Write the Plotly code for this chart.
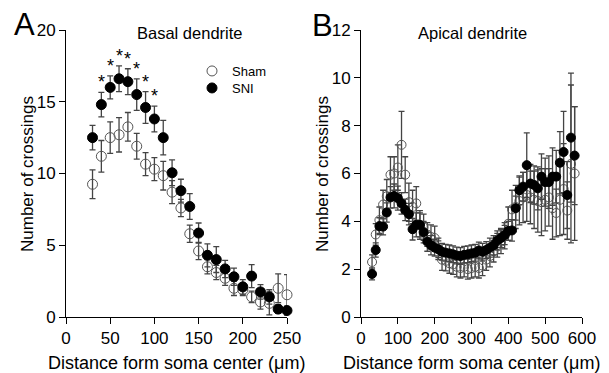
import plotly.graph_objects as go

# ---------------- Panel A: Basal dendrite ----------------
basal_dist = [30, 40, 50, 60, 70, 80, 90, 100, 110, 120, 130, 140, 150, 160,
              170, 180, 190, 200, 210, 220, 230, 240, 250]
basal_sham = [9.25, 11.2, 12.5, 12.7, 13.25, 11.9, 10.65, 10.3, 9.85, 8.7, 7.6, 5.8,
              4.6, 3.5, 3.1, 2.7, 2.0, 1.9, 1.4, 1.05, 0.95, 2.0, 1.55]
basal_sham_err = [1.0, 1.1, 1.1, 1.2, 1.0, 0.9, 0.8, 0.8, 1.0, 0.8, 0.6, 0.6,
                  0.6, 0.5, 0.5, 0.5, 0.5, 0.4, 0.4, 0.5, 0.8, 1.0, 1.4]
basal_sni = [12.5, 14.8, 16.0, 16.6, 16.4, 15.5, 14.6, 13.8, 12.5, 10.05, 8.8, 7.7,
             5.85, 4.3, 4.0, 3.35, 2.8, 2.1, 2.85, 1.75, 1.4, 0.55, 0.45]
basal_sni_err = [0.85, 0.85, 0.8, 0.9, 0.9, 1.1, 1.1, 0.9, 1.2, 0.9, 0.8, 0.9,
                 0.7, 0.8, 0.9, 0.6, 0.6, 0.5, 0.8, 0.5, 0.5, 0.3, 0.3]
basal_sig = [40, 50, 60, 70, 80, 90, 100]

# ---------------- Panel B: Apical dendrite ----------------
apical_dist = [30, 40, 50, 60, 70, 80, 90, 100, 110, 120, 130, 140, 150, 160, 170,
               180, 190, 200, 210, 220, 230, 240, 250, 260, 270, 280, 290, 300, 310,
               320, 330, 340, 350, 360, 370, 380, 390, 400, 410, 420, 430, 440, 450,
               460, 470, 480, 490, 500, 510, 520, 530, 540, 550, 560, 570, 580]
apical_sham = [2.3, 3.45, 4.05, 4.7, 5.05, 5.95, 6.0, 6.25, 7.2, 5.95, 4.8, 4.6, 4.75,
               3.85, 3.75, 3.45, 3.35, 3.3, 2.85, 2.4, 2.35, 2.25, 2.2, 2.1, 2.05, 2.1,
               2.0, 2.05, 2.1, 2.05, 2.15, 2.4, 2.55, 2.75, 3.0, 3.15, 3.4, 3.9, 4.5,
               4.6, 4.85, 5.0, 5.1, 5.0, 4.9, 4.85, 4.8, 4.9, 5.0, 4.55, 4.35, 4.9,
               5.35, 4.45, 6.4, 6.0]
apical_sham_err = [0.3, 0.45, 0.55, 0.6, 0.7, 0.75, 0.7, 0.95, 1.4, 0.75, 0.8, 0.7,
                   0.7, 0.6, 0.55, 0.5, 0.5, 0.5, 0.45, 0.45, 0.42, 0.42, 0.42, 0.42,
                   0.42, 0.42, 0.42, 0.42, 0.42, 0.42, 0.42, 0.45, 0.45, 0.45, 0.5,
                   0.5, 0.55, 0.7, 0.8, 0.9, 1.0, 1.05, 1.1, 1.1, 1.2, 1.3, 1.4, 1.3,
                   1.2, 1.3, 1.0, 1.5, 1.9, 1.2, 3.3, 2.8]
apical_sni = [1.8, 2.8, 3.8, 3.78, 4.37, 5.0, 5.06, 4.97, 4.75, 4.48, 4.3, 3.67, 3.85,
              3.85, 3.55, 3.15, 3.0, 2.9, 2.83, 2.73, 2.69, 2.66, 2.62, 2.57, 2.55,
              2.6, 2.62, 2.66, 2.69, 2.78, 2.73, 2.8, 2.9, 3.0, 3.2, 3.3, 3.43, 3.6,
              3.62, 4.55, 5.3, 5.45, 6.35, 5.58, 5.52, 5.38, 5.87, 5.64, 5.64, 5.87,
              5.87, 6.45, 6.9, 5.1, 7.5, 6.75]
apical_sni_err = [0.25, 0.3, 0.35, 0.35, 0.4, 0.45, 0.5, 0.5, 0.45, 0.45, 0.45, 0.45,
                  0.5, 0.5, 0.45, 0.4, 0.4, 0.35, 0.35, 0.35, 0.35, 0.35, 0.35, 0.35,
                  0.35, 0.35, 0.35, 0.35, 0.35, 0.35, 0.35, 0.35, 0.4, 0.4, 0.4, 0.4,
                  0.4, 0.4, 0.45, 0.5, 0.6, 0.6, 1.35, 0.8, 0.8, 0.9, 0.95, 1.0, 1.1,
                  1.2, 1.1, 1.3, 1.7, 1.4, 2.7, 2.05]

basal_xticks = [0, 50, 100, 150, 200, 250]
basal_yticks = [0, 5, 10, 15, 20]
apical_xticks = [0, 100, 200, 300, 400, 500, 600]
apical_yticks = [0, 2, 4, 6, 8, 10, 12]

x_title = "Distance form soma center (μm)"
y_title = "Number of crossings"

FONT = "Liberation Sans, Arial, sans-serif"
OFF = 8                      # page body margin of the browser
W, H = 609 - OFF, 373 - OFF  # figure size that fits the window
ERRC = "#444444"


def px_x(p):
    return (p - OFF) / W


def px_y(p):
    return (H - (p - OFF)) / H


fig = go.Figure()


def add_series(x, y, err, filled, name, xa, ya, size, show, leg):
    fig.add_trace(go.Scatter(
        x=x, y=y, mode="markers", name=name, showlegend=show, legend=leg,
        xaxis=xa, yaxis=ya, cliponaxis=False,
        marker=dict(symbol="circle", size=size,
                    color="black" if filled else "rgba(255,255,255,0)",
                    line=dict(color="black" if filled else "#555555", width=1)),
        error_y=dict(type="data", array=err, visible=True, color=ERRC,
                     thickness=1.3, width=3),
    ))


add_series(basal_dist, basal_sham, basal_sham_err, False, "Sham", "x", "y", 10, True, "legend")
add_series(basal_dist, basal_sni, basal_sni_err, True, "SNI", "x", "y", 10, True, "legend2")
add_series(apical_dist, apical_sham, apical_sham_err, False, "Sham", "x2", "y2", 9, False, "legend")
add_series(apical_dist, apical_sni, apical_sni_err, True, "SNI", "x2", "y2", 9, False, "legend2")

# significance asterisks above SNI error bars
for xv in basal_sig:
    i = basal_dist.index(xv)
    fig.add_annotation(x=xv, y=basal_sni[i] + basal_sni_err[i], xref="x", yref="y",
                       text="*", showarrow=False, yanchor="bottom", yshift=-2,
                       font=dict(family=FONT, size=18, color="black"))

axis_common = dict(showline=True, linecolor="black", linewidth=1, ticks="outside",
                   ticklen=6, tickwidth=1, tickcolor="black", showgrid=False,
                   zeroline=False, automargin=False,
                   tickfont=dict(family=FONT, size=17, color="black"))

legend_common = dict(xanchor="left", yanchor="top", bgcolor="rgba(0,0,0,0)",
                     font=dict(family=FONT, size=13, color="black"), itemwidth=30)

fig.update_layout(
    width=W, height=H, margin=dict(l=0, r=0, t=0, b=0, autoexpand=False),
    paper_bgcolor="white", plot_bgcolor="white",
    font=dict(family=FONT, color="black"),
    xaxis=dict(domain=[px_x(66), px_x(287)], range=[0, 250], tickvals=basal_xticks,
               anchor="y", **axis_common),
    yaxis=dict(domain=[px_y(317), px_y(30)], range=[0, 20], tickvals=basal_yticks,
               anchor="x", **axis_common),
    xaxis2=dict(domain=[px_x(361), px_x(582)], range=[0, 600], tickvals=apical_xticks,
                anchor="y2", **axis_common),
    yaxis2=dict(domain=[px_y(317), px_y(30)], range=[0, 12], tickvals=apical_yticks,
                anchor="x2", **axis_common),
    legend=dict(x=px_x(192), y=px_y(56), **legend_common),
    legend2=dict(x=px_x(192), y=px_y(73), **legend_common),
    showlegend=True,
)

# panel titles, letters and axis titles
labels = [
    ("Basal dendrite", 190, 33, 16.5, 0), ("Apical dendrite", 472, 33, 16.5, 0),
    ("A", 24, 24, 31, 0), ("B", 322, 25, 31, 0),
    (x_title, 176.5, 363, 18, 0), (x_title, 471.5, 363, 18, 0),
    (y_title, 27, 174, 17, -90), (y_title, 322, 174, 17, -90),
]
for text, xc, yc, size, ang in labels:
    fig.add_annotation(x=px_x(xc), y=px_y(yc), xref="paper", yref="paper", text=text,
                       showarrow=False, xanchor="center", yanchor="middle", textangle=ang,
                       font=dict(family=FONT, size=size, color="black"))

fig.write_html("out.html")
